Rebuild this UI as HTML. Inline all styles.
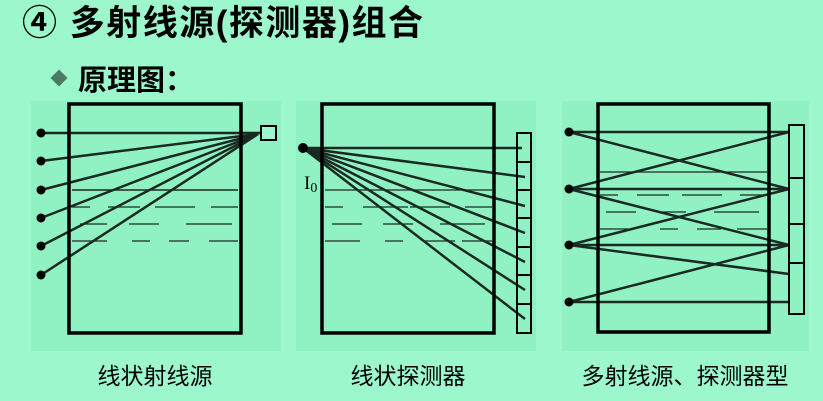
<!DOCTYPE html>
<html><head><meta charset="utf-8"><style>
body{margin:0;width:823px;height:401px;background:#9cf8cc;overflow:hidden;font-family:"Liberation Sans","Noto Sans CJK SC",sans-serif}
</style></head><body>
<svg width="823" height="401" xmlns="http://www.w3.org/2000/svg" style="position:absolute;left:0;top:0">
<text x="22" y="35" font-size="35" font-weight="bold" letter-spacing="1.5" fill="#000" font-family="Liberation Sans,Noto Sans CJK SC,sans-serif">④ 多射线源(探测器)组合</text>
<rect x="53" y="72" width="12" height="12" fill="#4a7a66" transform="rotate(45 59 78)"/>
<text x="78" y="90" font-size="29" font-weight="bold" fill="#000" font-family="Liberation Sans,Noto Sans CJK SC,sans-serif">原理图：</text>
<g fill="#90f2c2"><rect x="31" y="101" width="250" height="250"/><rect x="296" y="101" width="240" height="250"/><rect x="562" y="101" width="247" height="250"/></g>
<g stroke="#1a2a22" fill="none">
<g stroke-width="1.5"><line x1="72" y1="190" x2="238" y2="190"/>
<path d="M72 207h18M108 207h32M155 207h40M211 207h27M80 224h27M129 224h30M186 224h46M72 241h35M132 241h18M169 241h20M209 241h29" stroke-width="1.2"/></g>
<g stroke-width="2.5"><line x1="41" y1="133" x2="262" y2="133"/><line x1="41" y1="161" x2="258" y2="134"/><line x1="41" y1="190" x2="258" y2="134"/><line x1="41" y1="218" x2="258" y2="134"/><line x1="41" y1="246" x2="258" y2="134"/><line x1="41" y1="275" x2="258" y2="134"/></g>
<rect x="69" y="104" width="172" height="229" stroke="#000" stroke-width="3.5"/>
<rect x="261" y="126" width="15" height="14" stroke="#000" stroke-width="2" fill="#9cf8cc"/>
<g stroke-width="1.2"><line x1="325" y1="190" x2="492" y2="190"/><path d="M325 207h18M363 207h45M410 207h40M465 207h27M332 224h30M383 224h30M440 224h45M325 241h35M385 241h18M425 241h30M462 241h30"/></g>
<g stroke-width="2.5"><line x1="303" y1="148" x2="522" y2="148"/><line x1="303" y1="148" x2="525" y2="177"/><line x1="303" y1="148" x2="525" y2="206"/><line x1="303" y1="148" x2="525" y2="233"/><line x1="303" y1="148" x2="525" y2="262"/><line x1="303" y1="148" x2="525" y2="290"/><line x1="303" y1="148" x2="525" y2="319"/></g>
<rect x="322" y="104" width="172" height="229" stroke="#000" stroke-width="3.5"/>
<g stroke="#000" stroke-width="2"><rect x="517" y="133" width="14" height="200"/><path d="M517 162h14M517 190h14M517 218h14M517 247h14M517 275h14M517 304h14"/></g>
<g stroke-width="1.2"><line x1="600" y1="172" x2="767" y2="172"/><path d="M600 195h18M637 195h32M682 195h40M740 195h27M606 212h30M662 212h24M714 212h45M600 229h28M660 229h18M697 229h24M737 229h30"/></g>
<g stroke-width="2.5"><line x1="569" y1="132" x2="789" y2="132"/><line x1="569" y1="132" x2="789" y2="189"/>
<line x1="569" y1="189" x2="789" y2="132"/><line x1="569" y1="189" x2="789" y2="189"/><line x1="569" y1="189" x2="789" y2="245"/>
<line x1="569" y1="245" x2="789" y2="189"/><line x1="569" y1="245" x2="789" y2="245"/><line x1="569" y1="245" x2="789" y2="274"/>
<line x1="569" y1="302" x2="789" y2="245"/><line x1="569" y1="302" x2="789" y2="302"/></g>
<rect x="598" y="104" width="171" height="228" stroke="#000" stroke-width="3.5"/>
<g stroke="#000" stroke-width="2"><rect x="789" y="125" width="15" height="189"/><path d="M789 178h15M789 224h15M789 263h15"/></g>
</g>
<g fill="#000"><circle cx="41" cy="133" r="4.5"/><circle cx="41" cy="161" r="4.5"/><circle cx="41" cy="190" r="4.5"/><circle cx="41" cy="218" r="4.5"/><circle cx="41" cy="246" r="4.5"/><circle cx="41" cy="275" r="4.5"/>
<circle cx="303" cy="148" r="5"/>
<circle cx="569" cy="132" r="4.5"/><circle cx="569" cy="189" r="4.5"/><circle cx="569" cy="245" r="4.5"/><circle cx="569" cy="302" r="4.5"/></g>
<text x="304" y="189" font-size="19" font-family="Liberation Serif,serif" fill="#000">I<tspan font-size="14" dy="3">0</tspan></text>
<g font-size="23" fill="#000" text-anchor="middle" font-family="Liberation Sans,Noto Sans CJK SC,sans-serif">
<text x="155" y="384">线状射线源</text><text x="408" y="384">线状探测器</text><text x="685" y="384">多射线源、探测器型</text></g>
</svg>
</body></html>
